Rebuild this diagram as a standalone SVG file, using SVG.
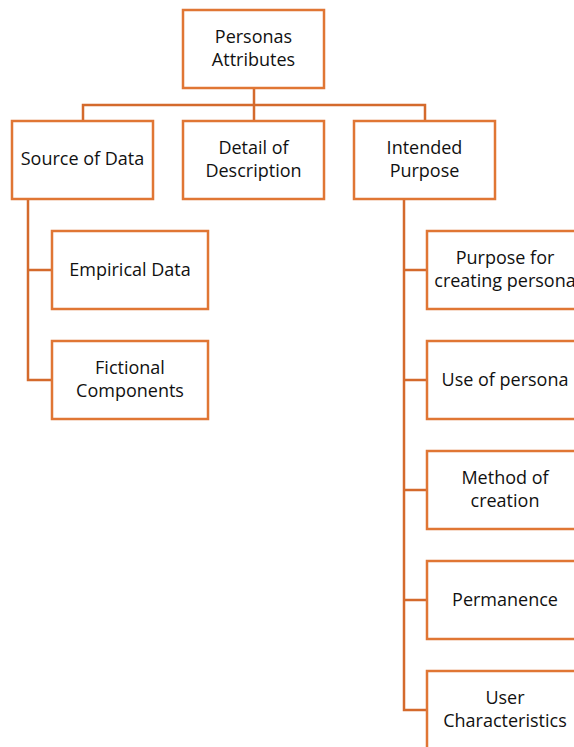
<svg xmlns="http://www.w3.org/2000/svg" width="574" height="747" viewBox="0 0 574 747">
<style>
.box{fill:#fff;stroke:#E07634;stroke-width:2.5}
.con{fill:none;stroke:#D46A2C;stroke-width:2.5}
text{font-family:"Open Sans","Noto Sans",sans-serif;font-size:18px;fill:#111;text-anchor:middle}
</style>
<rect width="574" height="747" fill="#fff"/>
<g id="connectors">
<path class="con" d="M254 88V105M83 121V105H425V121M254 105V121"/>
<path class="con" d="M28 199V380H52M28 270H52"/>
<path class="con" d="M404 199V710H427M404 270H427M404 380H427M404 490H427M404 600H427"/>
</g>
<g id="root"><rect class="box" x="183" y="10" width="141" height="78"/><text x="253.5" y="43">Personas</text><text x="253.5" y="66">Attributes</text></g>
<g id="source"><rect class="box" x="12" y="121" width="141" height="78"/><text x="82.5" y="165">Source of Data</text></g>
<g id="detail"><rect class="box" x="183" y="121" width="141" height="78"/><text x="253.5" y="154">Detail of</text><text x="253.5" y="177">Description</text></g>
<g id="intended"><rect class="box" x="354" y="121" width="141" height="78"/><text x="424.5" y="154">Intended</text><text x="424.5" y="177">Purpose</text></g>
<g id="empirical"><rect class="box" x="52" y="231" width="156" height="78"/><text x="130" y="275.5">Empirical Data</text></g>
<g id="fictional"><rect class="box" x="52" y="341" width="156" height="78"/><text x="130" y="374">Fictional</text><text x="130" y="397">Components</text></g>
<g id="purpose"><rect class="box" x="427" y="231" width="156" height="78"/><text x="505" y="264">Purpose for</text><text x="505" y="287">creating persona</text></g>
<g id="use"><rect class="box" x="427" y="341" width="156" height="78"/><text x="505" y="385.5">Use of persona</text></g>
<g id="method"><rect class="box" x="427" y="451" width="156" height="78"/><text x="505" y="484">Method of</text><text x="505" y="507">creation</text></g>
<g id="permanence"><rect class="box" x="427" y="561" width="156" height="78"/><text x="505" y="605.5">Permanence</text></g>
<g id="user"><rect class="box" x="427" y="671" width="156" height="78"/><text x="505" y="704">User</text><text x="505" y="727">Characteristics</text></g>
</svg>
